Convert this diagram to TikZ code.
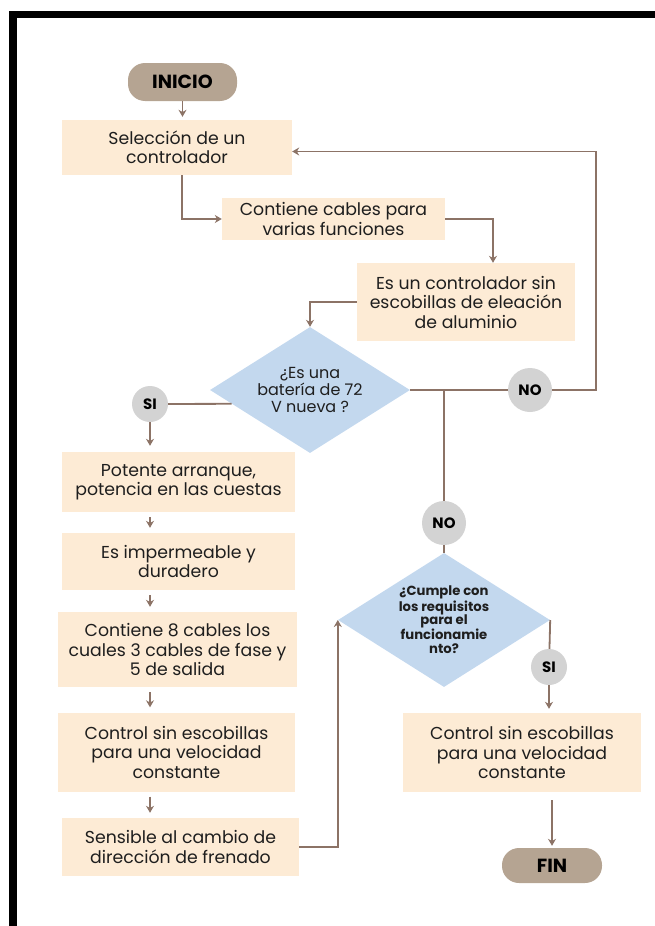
\documentclass[tikz,border=0pt]{standalone}
\usepackage{fontspec}
\setmainfont{Poppins}
\usetikzlibrary{positioning,arrows.meta,shapes.geometric}
\definecolor{flPeach}{HTML}{FDEBD5}
\definecolor{flBlue}{HTML}{C3D8EE}
\definecolor{flTaupe}{HTML}{B5A492}
\definecolor{flGrayL}{HTML}{D3D3D3}
\definecolor{flBrown}{HTML}{8C7366}
\definecolor{flInk}{HTML}{1E1E1E}
\tikzset{
  fl-box/.style={
    fill=flPeach, draw=none, align=center, text=flInk,
    font=\fontsize{17.3}{19.5}\selectfont, inner sep=2pt
  },
  fl-pill/.style={fill=flTaupe, rounded corners=17pt, text=black,
    font=\bfseries\fontsize{19}{20}\selectfont},
  fl-dec/.style={diamond, fill=flBlue, inner sep=0pt, align=center,
    text=flInk},
  fl-tag/.style={circle, fill=flGrayL, inner sep=0pt, text=black,
    font=\bfseries\fontsize{15}{16}\selectfont},
  fl-line/.style={line width=1.8pt, draw=flBrown},
  fl-flow/.style={fl-line, -{Stealth[length=7pt,width=8pt]}}
}
\begin{document}
\begin{tikzpicture}[x=1pt, y=-1pt]
\useasboundingbox (0,0) rectangle (655,926);
% frame
\fill[black] (9,11) rectangle (655,18);
\fill[black] (9,11) rectangle (17,926);

\node[fl-pill, minimum width=109pt, minimum height=38pt] (start) at (182.5,82) {INICIO};
\node[fl-box, minimum width=230pt, minimum height=55pt] (sel) at (177,147.5)
  {Selección de un\\ controlador};
\node[fl-box, minimum width=223pt, minimum height=42pt] (cab) at (333.5,219)
  {Contiene cables para\\ varias funciones};
\node[fl-box, minimum width=218pt, minimum height=78pt] (alu) at (466,302)
  {Es un controlador sin\\ escobillas de eleación\\ de aluminio};
\node[fl-dec, aspect=1.6, minimum width=200pt, minimum height=126pt,
  font=\fontsize{16}{17.2}\selectfont] (bat) at (310,390)
  {¿Es una\\ batería de 72\\ V nueva ?};
\node[fl-tag, minimum size=36pt] (si1) at (150,404) {SI};
\node[fl-tag, minimum size=44pt] (no1) at (530,390) {NO};
\node[fl-tag, minimum size=44pt] (no2) at (444,523) {NO};

% left column
\node[fl-box, minimum width=233pt, minimum height=60pt] (pot) at (178.5,482)
  {Potente arranque,\\ potencia en las cuestas};
\node[fl-box, minimum width=233pt, minimum height=57pt] (imp) at (178.5,561.5)
  {Es impermeable y\\ duradero};
\node[fl-box, minimum width=239pt, minimum height=75pt] (cab8) at (177.5,649.5)
  {Contiene 8 cables los\\ cuales 3 cables de fase y\\ 5 de salida};
\node[fl-box, minimum width=237pt, minimum height=79pt] (ctl) at (176.5,752)
  {Control sin escobillas\\ para una velocidad\\ constante};
\node[fl-box, minimum width=237pt, minimum height=58pt] (sen) at (180.5,847)
  {Sensible al cambio de\\ dirección de frenado};

% right column
\node[fl-dec, aspect=1.58, minimum width=212pt, minimum height=134pt,
  font=\bfseries\fontsize{13.2}{13.8}\selectfont] (chk) at (444,620)
  {¿Cumple con\\ los requisitos\\ para el\\ funcionamie\\ nto?};
\node[fl-tag, minimum size=36pt] (si2) at (549,667) {SI};
\node[fl-box, minimum width=238pt, minimum height=79pt] (out) at (522,752.5)
  {Control sin escobillas\\ para una velocidad\\ constante};
\node[fl-pill, minimum width=100pt, minimum height=35pt] (fin) at (552,865.5) {FIN};

\coordinate (loopR) at (596,0);

% connectors
\draw[fl-flow, shorten >=3pt] (start.south) -- (start.south |- sel.north);
\draw[fl-flow] ([xshift=5pt]sel.south) |- (cab.west);
\draw[fl-flow] (cab.east) -| ([xshift=27pt]alu.north);
\draw[fl-flow] (alu.west) -| (bat.north);
\draw[fl-line] (bat.east) -- (no1);
\draw[fl-flow] (no1.east) -- (no1.east -| loopR) |- ([yshift=-4pt]sel.east);
\draw[fl-line] (bat.east -| no2) -- (no2);
\draw[fl-line] (no2) -- (chk.north);
\draw[fl-line] (bat.190) -- (si1);
\draw[fl-flow, shorten >=6pt] (si1.south) -- (si1.south |- pot.north);
\foreach \a/\b in {pot/imp, imp/cab8, cab8/ctl, ctl/sen}
  \draw[fl-flow, shorten <=5pt, shorten >=5pt] (si1 |- \a.south) -- (si1 |- \b.north);
\draw[fl-flow] (sen.east) -| (chk.west);
\draw[fl-line] (chk.east) -- (si2);
\draw[fl-flow, shorten >=4pt] (si2.south) -- (si2.south |- out.north);
\draw[fl-flow, shorten <=8pt, shorten >=2pt] (out.south -| fin) -- (fin.north);
\end{tikzpicture}
\end{document}
